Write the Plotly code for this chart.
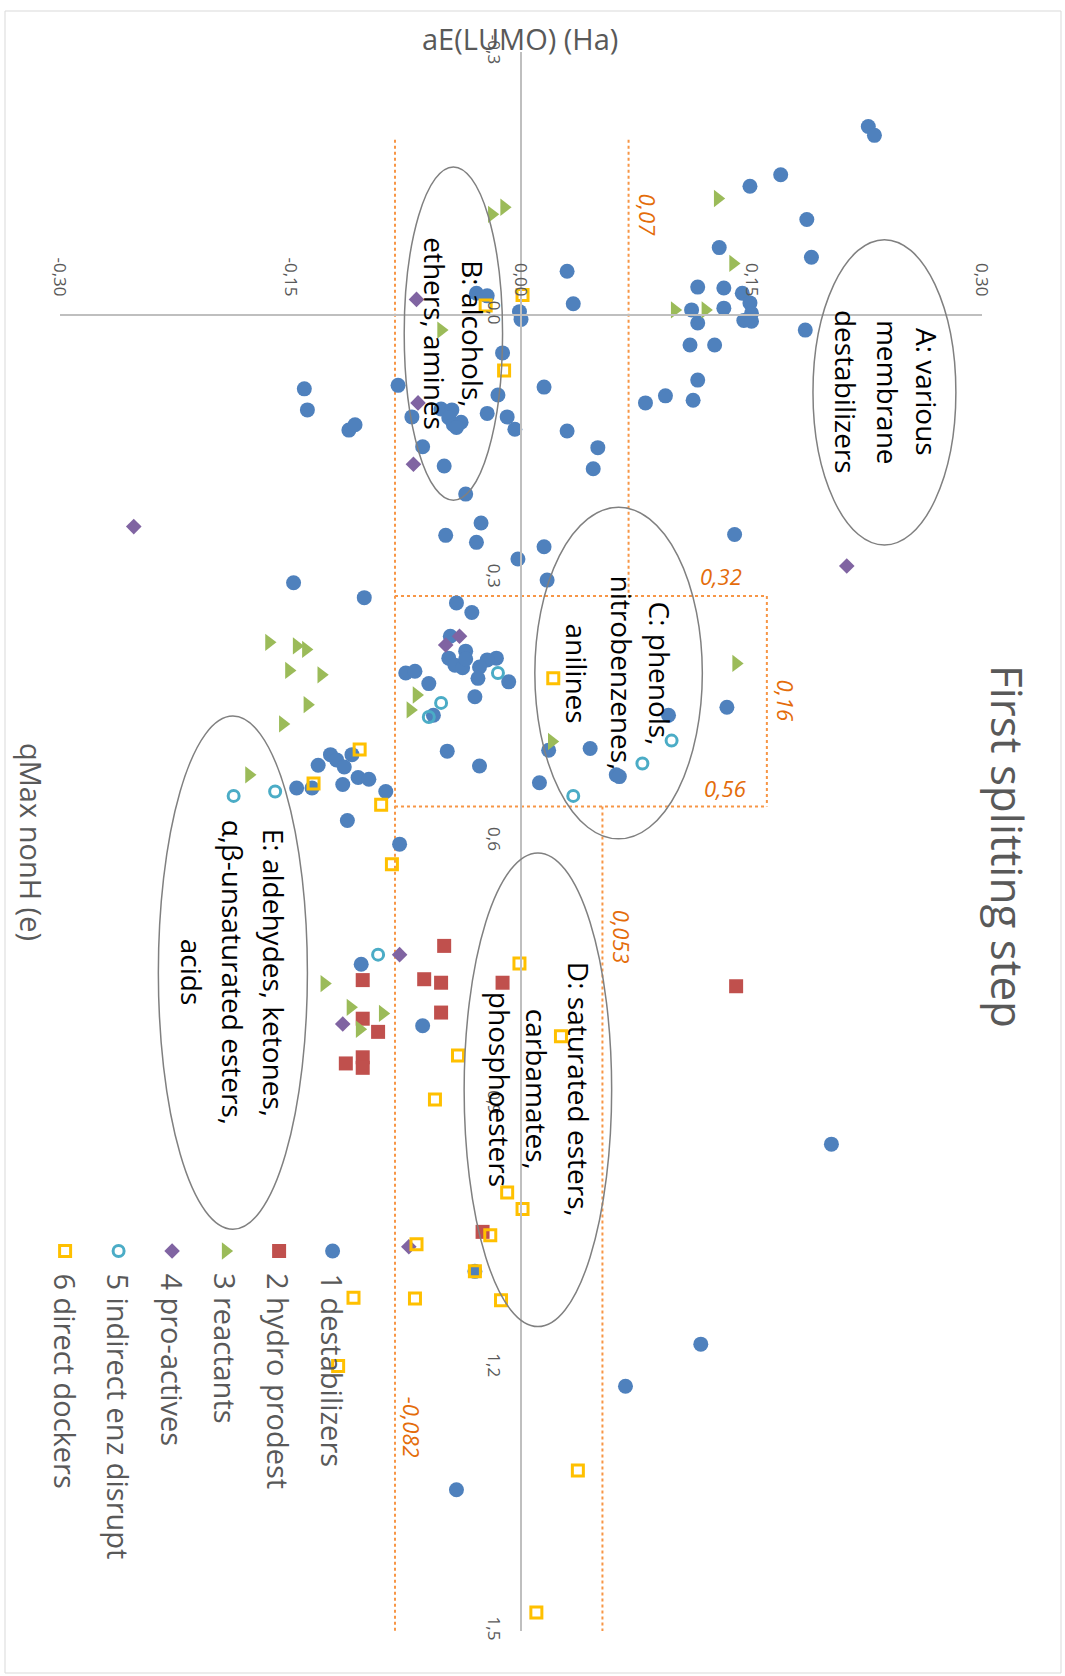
import plotly.graph_objects as go

# ---------------- data: aE(LUMO) [Ha] and qMax nonH [e] per class ----------------
destab_aE = [0.226, 0.230, 0.169, 0.149, 0.186, 0.189, 0.129, 0.030, 0.034, 0.115,
             0.132, 0.144, 0.149, 0.150, 0.145, 0.150, 0.111, 0.132, 0.115, 0.185,
             0.110, 0.126, 0.115, 0.015, 0.094, 0.081, 0.112, -0.029, -0.022, -0.001,
             0.000, -0.012, -0.141, -0.139, -0.080, -0.015, -0.071, -0.052, -0.045, -0.047,
             -0.044, -0.039, -0.042, -0.022, -0.009, -0.004, -0.064, -0.050, -0.112, -0.108,
             -0.036, -0.026, -0.049, -0.029, -0.002, -0.148, -0.102, 0.030, 0.050, 0.047,
             0.139, 0.015, 0.017, 0.134, 0.096, 0.018, 0.045, 0.062, 0.064, 0.012,
             -0.042, -0.032, -0.046, -0.047, -0.043, -0.038, -0.036, -0.036, -0.016, -0.022,
             -0.027, -0.028, -0.008, -0.030, -0.075, -0.069, -0.060, -0.057, -0.048, -0.027,
             -0.124, -0.120, -0.110, -0.132, -0.115, -0.146, -0.136, -0.116, -0.106, -0.099,
             -0.088, -0.113, -0.079, -0.104, -0.064, 0.202, -0.030, -0.042, 0.117, 0.068]
destab_q = [-0.215, -0.205, -0.160, -0.147, -0.109, -0.066, -0.077, -0.050, -0.013, -0.032,
            -0.031, -0.025, -0.014, -0.002, 0.006, 0.007, -0.006, -0.008, 0.009, 0.017,
            0.034, 0.034, 0.074, 0.082, 0.092, 0.100, 0.097, -0.025, -0.022, -0.004,
            0.005, 0.043, 0.084, 0.108, 0.080, 0.091, 0.116, 0.107, 0.108, 0.117,
            0.125, 0.122, 0.128, 0.112, 0.116, 0.130, 0.150, 0.172, 0.131, 0.125,
            0.204, 0.237, 0.251, 0.259, 0.278, 0.305, 0.322, 0.132, 0.151, 0.175,
            0.250, 0.264, 0.302, 0.447, 0.456, 0.496, 0.494, 0.524, 0.526, 0.533,
            0.328, 0.339, 0.366, 0.391, 0.399, 0.402, 0.383, 0.392, 0.391, 0.393,
            0.401, 0.414, 0.418, 0.435, 0.408, 0.406, 0.420, 0.456, 0.497, 0.514,
            0.501, 0.507, 0.501, 0.513, 0.515, 0.539, 0.539, 0.535, 0.527, 0.529,
            0.543, 0.576, 0.603, 0.740, 0.810, 0.945, 1.090, 1.339, 1.173, 1.221]

hydro_aE = [-0.050, -0.103, -0.063, -0.052, -0.012, -0.103, -0.052, -0.093, -0.103, -0.114,
            -0.103, -0.025, 0.140]
hydro_q = [0.719, 0.758, 0.757, 0.761, 0.761, 0.802, 0.795, 0.817, 0.846, 0.853,
           0.858, 1.045, 0.765]

react_aE = [0.128, 0.138, 0.100, 0.120, -0.011, -0.019, -0.052, -0.164, -0.146, -0.140,
            -0.151, -0.130, -0.139, -0.155, -0.068, -0.072, -0.177, 0.140, 0.020, -0.128,
            -0.111, -0.090, -0.105]
react_q = [-0.133, -0.059, -0.006, -0.006, -0.123, -0.115, 0.017, 0.373, 0.377, 0.381,
           0.405, 0.410, 0.444, 0.466, 0.433, 0.450, 0.524, 0.397, 0.486, 0.762,
           0.789, 0.796, 0.814]

proact_aE = [-0.068, -0.067, -0.070, -0.252, 0.212, -0.040, -0.049, -0.079, -0.116, -0.073]
proact_q = [-0.018, 0.100, 0.170, 0.241, 0.286, 0.366, 0.376, 0.729, 0.808, 1.062]

indir_aE = [-0.015, -0.052, -0.060, -0.187, -0.160, 0.098, 0.079, 0.034, -0.093]
indir_q = [0.408, 0.442, 0.458, 0.548, 0.543, 0.485, 0.511, 0.548, 0.729]

direct_aE = [0.001, -0.023, -0.011, -0.105, -0.135, -0.091, 0.021, -0.084, -0.001, 0.026,
             -0.041, -0.056, -0.009, 0.001, -0.020, -0.068, -0.030, -0.109, -0.069, -0.013,
             -0.119, 0.037, 0.010]
direct_q = [-0.023, -0.011, 0.063, 0.495, 0.534, 0.558, 0.414, 0.626, 0.739, 0.822,
            0.844, 0.894, 1.000, 1.019, 1.049, 1.059, 1.090, 1.120, 1.121, 1.123,
            1.198, 1.317, 1.479]

series_names = ["1 destabilizers", "2 hydro prodest", "3 reactants",
                "4 pro-actives", "5 indirect enz disrupt", "6 direct dockers"]

# axis settings
AE_RANGE = [-0.30, 0.30]
Q_RANGE = [1.5, -0.3]          # qMax grows downwards (chart is rotated)
AE_TICKS = [-0.30, -0.15, 0.00, 0.15, 0.30]
Q_TICKS = [-0.3, 0.0, 0.3, 0.6, 0.9, 1.2, 1.5]

# splitting thresholds
AE_SPLIT_LEFT = -0.082
AE_SPLIT_TOP = 0.07
AE_SPLIT_BOX = 0.16
AE_SPLIT_BOTTOM = 0.053
Q_SPLIT_1 = 0.32
Q_SPLIT_2 = 0.56
Q_LINE_START = -0.20
Q_LINE_END = 1.50

# ---------------- layout geometry ----------------
W, H = 1065, 1676
ML, MR, MT, MB = 60, 83, 52, 45
PW, PH = W - ML - MR, H - MT - MB


def px(x):
    return (x - ML) / PW


def py(y):
    return (H - MB - y) / PH


def fmt(v, d):
    return f"{v:.{d}f}".replace('.', ',')


def lab(v):
    return str(v).replace('.', ',')


GRAY_TXT = '#595959'
AX_COL = '#BFBFBF'
OR_LINE = '#F79646'
OR_TXT = '#E46C0A'
FONT = 'Open Sans'

styles = [
    dict(symbol='circle', size=15, color='#4F81BD', line=dict(width=0)),
    dict(symbol='square', size=14, color='#C0504D', line=dict(width=0)),
    dict(symbol='triangle-right', size=15, color='#9BBB59', line=dict(width=0)),
    dict(symbol='diamond', size=12, color='#8064A2', line=dict(width=0)),
    dict(symbol='circle-open', size=11, color='#4BACC6', line=dict(width=3, color='#4BACC6')),
    dict(symbol='square-open', size=11, color='#FFC000', line=dict(width=3, color='#FFC000')),
]
series = [(destab_aE, destab_q), (hydro_aE, hydro_q), (react_aE, react_q),
          (proact_aE, proact_q), (indir_aE, indir_q), (direct_aE, direct_q)]

fig = go.Figure()
for (xa, qa), name, st in zip(series, series_names, styles):
    fig.add_trace(go.Scatter(x=xa, y=qa, mode='markers', name=name, marker=st,
                             showlegend=False, cliponaxis=False))

# custom rotated legend (markers on an overlay axis in paper fractions)
leg_x0, leg_dx, leg_marker_y, leg_text_y = 332.6, 53.5, 1251, 1271
for i, (name, st) in enumerate(zip(series_names, styles)):
    cx = leg_x0 - i * leg_dx
    fig.add_trace(go.Scatter(x=[px(cx)], y=[py(leg_marker_y)], mode='markers',
                             marker=st, xaxis='x2', yaxis='y2', showlegend=False,
                             hoverinfo='skip', cliponaxis=False))

shapes = []
# chart border
shapes.append(dict(type='rect', xref='paper', yref='paper', x0=px(5), x1=px(1061),
                   y0=py(1673), y1=py(11), line=dict(color='#D9D9D9', width=1), layer='below'))

dot = dict(color=OR_LINE, width=2, dash='dot')
split_lines = [
    (AE_SPLIT_LEFT, AE_SPLIT_LEFT, Q_LINE_START, Q_LINE_END),
    (AE_SPLIT_TOP, AE_SPLIT_TOP, Q_LINE_START, Q_SPLIT_1),
    (AE_SPLIT_LEFT, AE_SPLIT_BOX, Q_SPLIT_1, Q_SPLIT_1),
    (AE_SPLIT_BOX, AE_SPLIT_BOX, Q_SPLIT_1, Q_SPLIT_2),
    (AE_SPLIT_LEFT, AE_SPLIT_BOX, Q_SPLIT_2, Q_SPLIT_2),
    (AE_SPLIT_BOTTOM, AE_SPLIT_BOTTOM, Q_SPLIT_2, Q_LINE_END),
]
for x0, x1, y0, y1 in split_lines:
    shapes.append(dict(type='line', xref='x', yref='y', x0=x0, x1=x1, y0=y0, y1=y1,
                       line=dot, layer='below'))

# class ellipses: (lines, aE0, aE1, q0, q1, line x-offsets in px)
groups = [
    (["A: various", "membrane", "destabilizers"], 0.190, 0.283, -0.086, 0.262, [42, 3, -39]),
    (["B: alcohols,", "ethers, amines"], -0.076, -0.012, -0.169, 0.211, [20, -18]),
    (["C: phenols,", "nitrobenzenes,", "anilines"], 0.009, 0.118, 0.219, 0.597, [41, 3, -42]),
    (["D: saturated esters,", "carbamates,", "phosphoesters"], -0.037, 0.059, 0.613, 1.153, [41, -1, -38]),
    (["E: aldehydes, ketones,", "\u03b1,\u03b2-unsaturated esters,", "acids"], -0.236, -0.139, 0.457, 1.042, [41, 0, -41]),
]
annotations = []
for lines, a0, a1, q0, q1, offs in groups:
    shapes.append(dict(type='circle', xref='x', yref='y', x0=a0, x1=a1, y0=q0, y1=q1,
                       line=dict(color='#808080', width=1.5), layer='above'))
    for t, o in zip(lines, offs):
        annotations.append(dict(x=(a0 + a1) / 2, y=(q0 + q1) / 2, xref='x', yref='y',
                                text=t, showarrow=False, textangle=90, xshift=o,
                                xanchor='center', yanchor='middle',
                                font=dict(family=FONT, size=28, color='#000000')))

# threshold labels
thr_labels = [
    (lab(AE_SPLIT_TOP), 0.0826, -0.1137, 90),
    (lab(Q_SPLIT_1), 0.1303, 0.2971, 0),
    (lab(AE_SPLIT_BOX), 0.1724, 0.4391, 90),
    (lab(Q_SPLIT_2), 0.1325, 0.5395, 0),
    (lab(AE_SPLIT_BOTTOM), 0.0654, 0.7080, 90),
    (lab(AE_SPLIT_LEFT), -0.0710, 1.2683, 90),
]
for t, xa, qa, ang in thr_labels:
    annotations.append(dict(x=xa, y=qa, xref='x', yref='y', text='<i>' + t + '</i>',
                            showarrow=False, textangle=ang, xanchor='center', yanchor='middle',
                            font=dict(family=FONT, size=22, color=OR_TXT)))

# titles
annotations.append(dict(x=px(1008), y=py(846), xref='paper', yref='paper', text='First splitting step',
                        showarrow=False, textangle=90, xanchor='center', yanchor='middle',
                        font=dict(family=FONT, size=44, color=GRAY_TXT)))
annotations.append(dict(x=px(520), y=py(39), xref='paper', yref='paper', text='aE(LUMO) (Ha)',
                        showarrow=False, xanchor='center', yanchor='middle',
                        font=dict(family=FONT, size=29, color=GRAY_TXT)))
annotations.append(dict(x=px(32), y=py(842), xref='paper', yref='paper', text='qMax nonH (e)',
                        showarrow=False, textangle=90, xanchor='center', yanchor='middle',
                        font=dict(family=FONT, size=29, color=GRAY_TXT)))

# legend texts
for i, name in enumerate(series_names):
    cx = leg_x0 - i * leg_dx
    annotations.append(dict(x=px(cx), y=py(leg_text_y), xref='paper', yref='paper', text=name,
                            showarrow=False, textangle=90, xanchor='center', yanchor='top',
                            font=dict(family=FONT, size=29, color=GRAY_TXT)))

q_zero_pos = (Q_RANGE[0] - 0.0) / (Q_RANGE[0] - Q_RANGE[1])
ae_zero_pos = (0.0 - AE_RANGE[0]) / (AE_RANGE[1] - AE_RANGE[0])

fig.update_layout(
    width=W, height=H,
    margin=dict(l=ML, r=MR, t=MT, b=MB, pad=0),
    paper_bgcolor='white', plot_bgcolor='white',
    font=dict(family=FONT, color=GRAY_TXT),
    showlegend=False,
    xaxis=dict(range=AE_RANGE, anchor='free', position=q_zero_pos, side='top',
               tickvals=AE_TICKS, ticktext=[fmt(v, 2) for v in AE_TICKS], tickangle=90,
               ticks='', showline=True, linecolor=AX_COL, linewidth=1.5,
               showgrid=False, zeroline=False, ticklabelstandoff=12,
               tickfont=dict(family=FONT, size=17, color=GRAY_TXT)),
    yaxis=dict(range=Q_RANGE, anchor='free', position=ae_zero_pos, side='left',
               tickvals=Q_TICKS, ticktext=[fmt(v, 1) for v in Q_TICKS], tickangle=90,
               ticks='', showline=True, linecolor=AX_COL, linewidth=1.5,
               showgrid=False, zeroline=False, ticklabelstandoff=12,
               tickfont=dict(family=FONT, size=17, color=GRAY_TXT)),
    xaxis2=dict(range=[0, 1], overlaying='x', anchor='y2', visible=False),
    yaxis2=dict(range=[0, 1], overlaying='y', anchor='x2', visible=False),
    shapes=shapes,
    annotations=annotations,
)

fig.write_html("out.html", config={'displayModeBar': False},
               post_script="document.body.style.margin='0';document.body.style.overflow='hidden';")
